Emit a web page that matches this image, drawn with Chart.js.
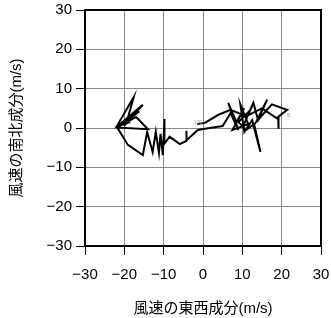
<!DOCTYPE html>
<html>
<head>
<meta charset="utf-8">
<script src="https://cdn.jsdelivr.net/npm/chart.js@4/dist/chart.umd.min.js"></script>
<style>
  html, body { margin: 0; padding: 0; background: #fff; }
  #wrap { width: 331px; height: 318px; }
</style>
</head>
<body>
<div id="wrap"><canvas id="c" width="331" height="318"></canvas></div>
<script>
// East-west (u) and north-south (v) wind components, m/s
const uValues = [-18.5, -22, -17.6, -19.5, -15.3, -21.8, -16.2, -21.6, -17, -14, -21.8, -19.1, -15.3,
  -14.2, -12.8, -12, -11.2, -10.8, -10.2, -9.8, -9.8, -8.5, -5.9, -4.2, -4.3, -4.1, -1.3,
  0.5, 5, 7, 9, 6.4, 8.5, 10.5, 7.5, 11.5, 9.5, 10.5, 12.5, 14.6, 13, 11, 9, 12, 10, 12.8, 14,
  16.3, 13.5, 17.5, 21.4, 19.1, 19.1, 19.3, 15, 11, 7, 3.8, 0.5, -1.5];
const vValues = [1.5, 0.3, 7.9, 1.2, 5.9, 0.4, 4.2, 0.2, 2.8, -0.3, 0.1, -4.3, -6.9,
  -1, -6.1, -1, -6.3, -1.5, -6.9, 2.3, -4, -2.2, -4.1, -3.3, -0.7, -3.1, -0.5,
  -0.2, 0.5, 3.8, -0.5, 6.4, 1.5, 5, -0.5, 1, 6, -1, 2, -6.1, 1, -0.5, 1.5, 4.5, 0, 6.4, 2,
  7.2, 1.5, 6, 4.6, 2.8, -0.2, 2.2, 5, 3, 4.6, 3.3, 1.3, 1];
const tickValues = [-30, -20, -10, 0, 10, 20, 30];
const labelTexts = ['100', '8'];
const labelU = [-1.3, 21.8];
const labelV = [1.3, 3.1];
const xTitle = '風速の東西成分(m/s)';
const yTitle = '風速の南北成分(m/s)';

const FONT = '"Liberation Sans", Arial, "Noto Sans CJK JP", sans-serif';
const points = uValues.map((u, i) => ({ x: u, y: vValues[i] }));

const framePlugin = {
  id: 'frame',
  afterDatasetsDraw(chart) {
    const { ctx, chartArea: a, scales } = chart;
    ctx.save();
    ctx.fillStyle = '#999';
    ctx.font = '5px ' + FONT;
    ctx.textAlign = 'center';
    ctx.textBaseline = 'middle';
    labelTexts.forEach((t, i) => {
      ctx.fillText(t, scales.x.getPixelForValue(labelU[i]), scales.y.getPixelForValue(labelV[i]));
    });
    ctx.strokeStyle = '#000';
    ctx.lineWidth = 2;
    ctx.strokeRect(a.left, a.top, a.right - a.left, a.bottom - a.top);
    ctx.restore();
  }
};

new Chart(document.getElementById('c'), {
  type: 'scatter',
  data: {
    datasets: [{
      data: points,
      showLine: true,
      borderColor: '#000',
      borderWidth: 2,
      pointRadius: 0,
      tension: 0,
      clip: false
    }]
  },
  options: {
    responsive: false,
    animation: false,
    devicePixelRatio: 1,
    layout: { padding: { top: 10, right: 10, left: 0, bottom: 0 } },
    plugins: { legend: { display: false }, tooltip: { enabled: false } },
    scales: {
      x: {
        type: 'linear', min: -30, max: 30,
        afterBuildTicks(s) { s.ticks = tickValues.map(v => ({ value: v })); },
        afterFit(s) { s.height = 72; s.paddingLeft = 0; s.paddingRight = 0; },
        grid: { color: '#888', lineWidth: 1, tickColor: '#000', tickLength: 9, drawTicks: true },
        border: { display: false },
        ticks: {
          color: '#000', padding: 11,
          font: { family: FONT, size: 15 },
          callback: v => String(v).replace('-', '\u2212')
        },
        title: { display: true, text: xTitle, color: '#000', padding: { top: 9, bottom: 0 },
          font: { family: FONT, size: 15 } }
      },
      y: {
        type: 'linear', min: -30, max: 30,
        afterBuildTicks(s) { s.ticks = tickValues.map(v => ({ value: v })); },
        afterFit(s) { s.width = 85; s.paddingTop = 0; s.paddingBottom = 0; },
        grid: { color: '#888', lineWidth: 1, tickColor: '#000', tickLength: 9, drawTicks: true },
        border: { display: false },
        ticks: {
          color: '#000', padding: 4,
          font: { family: FONT, size: 15 },
          callback: v => String(v).replace('-', '\u2212')
        },
        title: { display: true, text: yTitle, color: '#000', padding: { top: 8, bottom: 0 },
          font: { family: FONT, size: 15 } }
      }
    }
  },
  plugins: [framePlugin]
});
</script>
</body>
</html>
